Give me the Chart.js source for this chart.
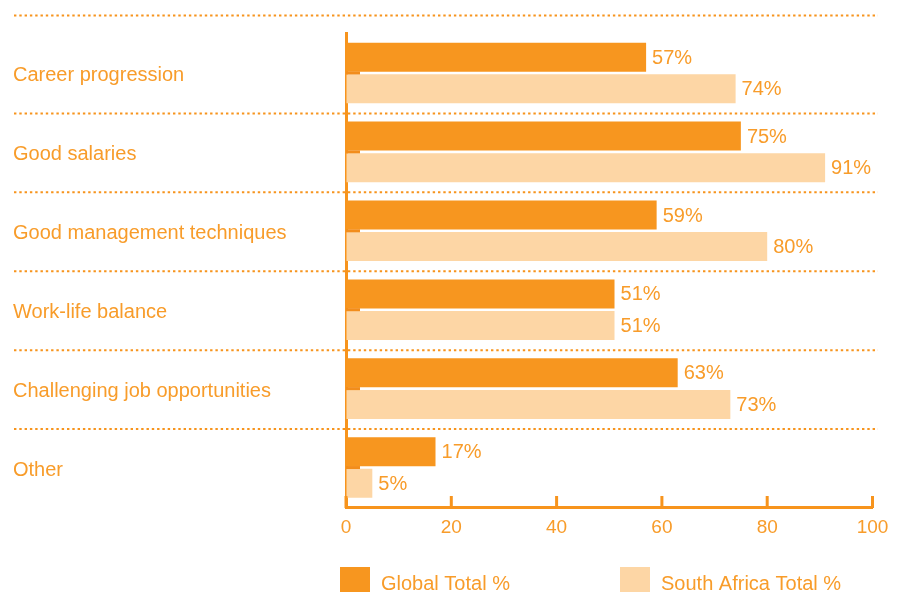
<!DOCTYPE html>
<html>
<head>
<meta charset="utf-8">
<script src="https://cdn.jsdelivr.net/npm/chart.js@4.4.1/dist/chart.umd.min.js"></script>
<style>
  html, body { margin: 0; padding: 0; background: #fff; }
  canvas { display: block; }
</style>
</head>
<body>
<canvas id="reasonsChart" width="907" height="592"></canvas>
<script>
// Data
const categories = ['Career progression', 'Good salaries', 'Good management techniques', 'Work-life balance', 'Challenging job opportunities', 'Other'];
const globalTotal = [57, 75, 59, 51, 63, 17];
const southAfricaTotal = [74, 91, 80, 51, 73, 5];
const seriesLabels = ['Global Total %', 'South Africa Total %'];
const xTicks = [0, 20, 40, 60, 80, 100];

const ORANGE = '#f7941d';
const PEACH = '#fdd6a5';
const TEXT = '#f89c2a';
const FONT = '"Liberation Sans", Arial, Helvetica, sans-serif';

// Dotted separators, inward ticks, category labels, value labels and legend
const decorations = {
    id: 'decorations',
    afterDraw(chart) {
        const { ctx, chartArea, scales: { x, y } } = chart;
        const half = (y.getPixelForValue(1) - y.getPixelForValue(0)) / 2;
        ctx.save();

        // separators
        ctx.strokeStyle = ORANGE;
        ctx.lineWidth = 2;
        ctx.setLineDash([2.4, 2.9]);
        const rows = [chartArea.top - 18];
        for (let i = 0; i < categories.length - 1; i++) {
            rows.push(y.getPixelForValue(i) + half + 1);
        }
        rows.forEach(py => {
            ctx.beginPath();
            ctx.moveTo(14, py);
            ctx.lineTo(878, py);
            ctx.stroke();
        });
        ctx.setLineDash([]);

        // x ticks pointing up into the plot
        ctx.lineWidth = 3;
        xTicks.forEach(v => {
            const px = x.getPixelForValue(v);
            ctx.beginPath();
            ctx.moveTo(px, chartArea.bottom + 1);
            ctx.lineTo(px, chartArea.bottom - 11);
            ctx.stroke();
        });

        // small notch at each category centre
        ctx.fillStyle = '#f28d1c';
        categories.forEach((c, i) => {
            ctx.fillRect(chartArea.left, y.getPixelForValue(i) - 1.5, 14, 3);
        });

        // category labels
        ctx.fillStyle = TEXT;
        ctx.font = '20px ' + FONT;
        ctx.textAlign = 'left';
        ctx.textBaseline = 'middle';
        categories.forEach((c, i) => ctx.fillText(c, 13, y.getPixelForValue(i) + 3));

        // value labels
        chart.data.datasets.forEach((ds, di) => {
            chart.getDatasetMeta(di).data.forEach((bar, i) => {
                ctx.fillText(ds.data[i] + '%', bar.x + 6, bar.y + 1);
            });
        });

        // legend
        const legendX = [340, 620];
        ctx.textBaseline = 'alphabetic';
        chart.data.datasets.forEach((ds, di) => {
            ctx.fillStyle = ds.backgroundColor;
            ctx.fillRect(legendX[di], 567, 30, 30);
            ctx.fillStyle = TEXT;
            ctx.fillText(ds.label, legendX[di] + 41, 590);
        });

        ctx.restore();
    }
};

const chartConfig = {
    type: 'bar',
    data: {
        labels: categories,
        datasets: [
            {
                label: seriesLabels[0],
                data: globalTotal,
                backgroundColor: '#f7961f',
                categoryPercentage: 0.8,
                barPercentage: 0.92
            },
            {
                label: seriesLabels[1],
                data: southAfricaTotal,
                backgroundColor: PEACH,
                categoryPercentage: 0.8,
                barPercentage: 0.92
            }
        ]
    },
    options: {
        indexAxis: 'y',
        responsive: false,
        animation: false,
        layout: { padding: { top: 33.5, left: 346, right: 34.5, bottom: 55 } },
        scales: {
            x: {
                min: 0,
                max: 100,
                afterBuildTicks: scale => { scale.ticks = xTicks.map(v => ({ value: v })); },
                afterFit: scale => { scale.height = 30; },
                ticks: { color: TEXT, font: { family: FONT, size: 19 }, padding: 9 },
                grid: { drawOnChartArea: false, drawTicks: false },
                border: { display: true, color: ORANGE, width: 3 }
            },
            y: {
                afterFit: scale => { scale.width = 0; },
                ticks: { display: false },
                grid: { drawOnChartArea: false, drawTicks: false },
                border: { display: true, color: ORANGE, width: 3 }
            }
        },
        plugins: {
            legend: { display: false },
            tooltip: { enabled: false }
        }
    },
    plugins: [decorations]
};

new Chart(document.getElementById('reasonsChart'), chartConfig);
</script>
</body>
</html>
